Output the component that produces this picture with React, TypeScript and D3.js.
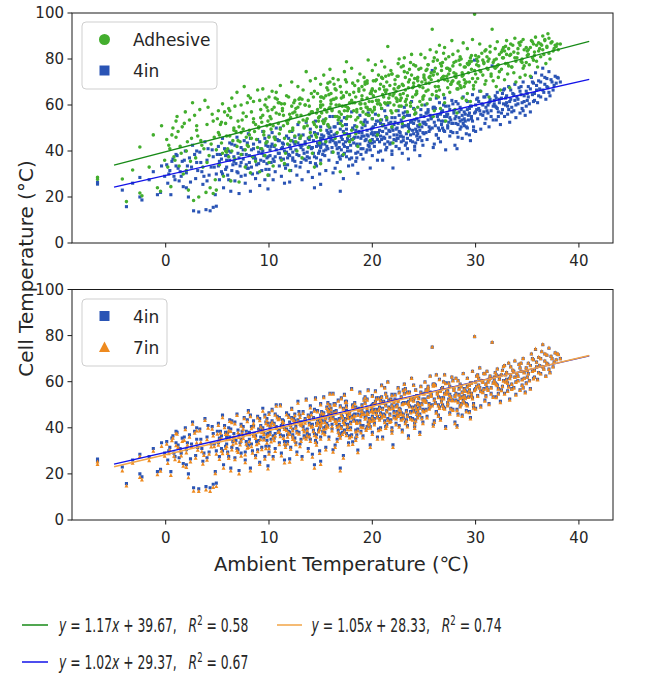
import React, { useLayoutEffect, useRef, useState } from 'react';
import * as d3 from 'd3';

// Ambient temperature of each sample (°C)
const ambient = [
  -6.6,-6.6,-4.2,-3.8,-3.2,-2.5,-2.5,-2.3,-1.6,-1.2,
  -0.8,-0.5,-0.4,-0.1,0.1,0.2,0.4,0.5,0.7,0.8,
  1.0,1.1,1.3,1.4,1.6,1.7,1.9,2.0,2.2,2.3,
  2.5,2.6,2.7,2.9,3.0,3.2,3.3,3.5,3.6,3.8,
  3.9,4.0,4.2,4.3,4.5,4.6,4.7,4.8,4.9,5.0,
  5.1,5.2,5.2,5.4,5.5,5.6,5.8,5.9,6.0,6.1,
  6.2,6.3,6.4,6.4,6.6,6.7,6.8,6.9,7.0,7.1,
  7.2,7.3,7.3,7.5,7.6,7.7,7.8,7.9,8.0,8.1,
  8.2,8.3,8.4,8.5,8.5,8.7,8.8,8.9,9.0,9.1,
  9.2,9.2,9.3,9.4,9.5,9.6,9.7,9.8,9.8,9.9,
  9.9,10.0,10.0,10.0,10.1,10.2,10.3,10.4,10.5,10.6,
  10.6,10.8,10.9,11.0,11.1,11.2,11.3,11.4,11.5,11.5,
  11.7,11.8,11.9,12.0,12.0,12.1,12.2,12.3,12.4,12.5,
  12.6,12.7,12.8,12.9,13.0,13.0,13.1,13.2,13.3,13.4,
  13.5,13.6,13.7,13.8,13.9,14.0,14.0,14.1,14.2,14.3,
  14.4,14.5,14.6,14.6,14.7,14.8,14.9,15.0,15.0,15.0,
  15.0,15.0,10.7,11.6,12.5,13.2,13.9,14.4,11.0,12.3,
  15.1,15.2,15.3,15.4,15.5,15.6,15.7,15.8,15.9,16.0,
  16.1,16.2,16.3,16.4,16.5,16.6,16.7,16.8,16.9,17.0,
  17.1,17.2,17.3,17.4,17.5,17.6,17.7,17.8,17.9,18.0,
  18.0,18.1,18.2,18.3,18.4,18.5,18.6,18.7,18.8,18.9,
  19.0,19.1,19.2,19.3,19.4,19.5,19.6,19.7,19.8,19.9,
  20.0,20.0,15.5,16.0,16.8,17.5,18.4,19.0,19.5,15.8,
  16.5,17.0,17.8,18.6,19.3,15.3,16.2,17.2,18.1,19.8,
  15.0,16.4,17.6,18.9,19.6,20.0,15.7,17.3,20.1,20.2,
  20.3,20.4,20.5,20.6,20.7,20.8,20.9,21.0,21.0,21.1,
  21.2,21.3,21.4,21.5,21.6,21.7,21.8,21.9,22.0,22.1,
  22.2,22.3,22.4,22.5,22.6,22.7,22.8,22.9,23.0,23.1,
  23.2,23.3,23.4,23.5,23.6,23.7,23.8,23.9,24.0,24.1,
  24.2,24.3,24.4,24.5,24.6,24.7,24.8,24.9,25.0,25.0,
  20.3,20.9,21.4,21.9,22.3,22.8,23.2,23.7,24.2,24.6,
  20.6,21.2,21.7,22.1,22.6,23.0,23.5,24.0,24.4,24.9,
  20.0,21.3,22.4,23.4,24.3,20.8,25.1,25.2,25.3,25.4,
  25.5,25.6,25.7,25.8,25.9,26.0,26.1,26.2,26.3,26.4,
  26.5,26.6,26.7,26.8,26.9,27.0,27.1,27.2,27.3,27.4,
  27.5,27.6,27.7,27.8,27.9,28.0,28.1,28.2,28.3,28.4,
  28.5,28.6,28.7,28.8,28.9,29.0,29.1,29.2,29.3,29.4,
  29.5,29.6,29.7,29.8,29.9,30.0,30.0,25.4,25.9,26.4,
  26.9,27.3,27.8,28.3,28.7,29.2,29.6,25.6,26.2,26.7,
  27.5,28.1,28.9,29.4,25.2,26.0,27.0,28.5,30.1,30.2,
  30.3,30.4,30.5,30.6,30.7,30.8,30.9,31.0,31.1,31.2,
  31.3,31.4,31.5,31.6,31.7,31.8,31.9,32.0,32.1,32.2,
  32.3,32.4,32.5,32.6,32.7,32.8,32.9,33.0,33.1,33.2,
  33.3,33.4,33.5,33.6,33.7,33.8,33.9,34.0,34.1,34.2,
  34.3,34.4,34.5,34.6,34.7,34.8,34.9,35.0,30.4,31.2,
  32.0,32.8,35.1,35.2,35.3,35.4,35.5,35.6,35.7,35.8,
  35.9,36.0,36.1,36.2,36.3,36.4,36.5,36.6,36.7,36.8,
  36.9,37.0,37.1,37.2,37.4,37.5,37.7,37.8,38.0,38.2,
  0.3,0.6,0.9,1.2,1.5,1.8,2.1,2.4,2.8,3.1,
  3.4,3.7,4.1,4.4,4.6,4.9,1.0,2.0,3.0,4.0,
  5.1,5.3,5.5,5.7,5.9,6.1,6.3,6.5,6.7,6.9,
  7.1,7.3,7.5,7.7,7.9,8.1,8.3,8.5,8.7,8.9,
  9.1,9.3,9.5,9.7,9.9,5.4,5.8,6.2,6.6,7.0,
  7.4,7.8,8.2,8.6,9.0,9.4,9.8,6.0,8.0,9.6,
  10.1,10.3,10.5,10.7,10.9,11.1,11.3,11.5,11.7,11.9,
  12.1,12.3,12.5,12.7,12.9,13.1,13.3,13.5,13.7,13.9,
  14.1,14.3,14.5,14.7,14.9,10.2,10.6,11.0,11.4,11.8,
  12.2,12.6,13.0,13.4,13.8,14.2,14.6,15.0,10.4,11.2,
  12.0,12.8,13.6,14.4,14.8,15.1,15.3,15.5,15.7,15.9,
  16.1,16.3,16.5,16.7,16.9,17.1,17.3,17.5,17.7,17.9,
  18.1,18.3,18.5,18.7,18.9,19.1,19.3,19.5,19.7,19.9,
  15.2,15.6,16.0,16.4,16.8,17.2,17.6,18.0,18.4,18.8,
  19.2,19.6,20.0,15.4,16.2,17.0,17.8,18.6,19.4,15.8,
  16.6,17.4,18.2,19.0,19.8,16.9,18.5,19.5,15.9,17.5,
  20.1,20.3,20.5,20.7,20.9,21.1,21.3,21.5,21.7,21.9,
  22.1,22.3,22.5,22.7,22.9,23.1,23.3,23.5,23.7,23.9,
  24.1,24.3,24.5,24.7,24.9,20.2,20.6,21.0,21.4,21.8,
  22.2,22.6,23.0,23.4,23.8,24.2,24.6,25.0,20.4,21.2,
  22.0,22.8,23.6,24.4,20.8,21.6,22.4,23.2,24.0,24.8,
  21.9,23.0,24.1,20.0,22.5,25.1,25.3,25.5,25.7,25.9,
  26.1,26.3,26.5,26.7,26.9,27.1,27.3,27.5,27.7,27.9,
  28.1,28.3,28.5,28.7,28.9,29.1,29.3,29.5,29.7,29.9,
  25.2,25.6,26.0,26.4,26.8,27.2,27.6,28.0,28.4,28.8,
  29.2,29.6,30.0,25.8,26.6,27.4,28.2,29.0,29.8,25.4,
  26.2,27.0,27.8,28.6,29.4,30.1,30.3,30.5,30.7,30.9,
  31.1,31.3,31.5,31.7,31.9,32.1,32.3,32.5,32.7,32.9,
  33.1,33.3,33.5,33.7,33.9,34.1,34.3,34.5,34.7,34.9,
  30.2,30.8,31.4,32.0,32.6,33.2,33.8,34.4,35.0,31.0,
  32.2,33.4,34.6,31.8,33.0,35.1,35.3,35.5,35.7,35.9,
  36.1,36.3,36.5,36.7,36.9,37.1,37.3,37.6,37.9,35.6,
];

// Cell temperature, adhesive mount (°C)
const adhesive = [
  27.7,28.6,27.8,18.0,31.7,21.7,41.7,20.5,33.0,47.0,
  24.0,22.5,51.0,36.0,45.0,33.0,41.0,24.5,50.0,37.5,
  46.0,55.0,33.5,42.0,50.5,30.0,57.0,40.0,23.0,53.5,
  45.5,61.0,18.5,37.0,49.0,20.0,58.0,42.5,33.0,62.0,
  22.0,51.5,38.0,24.0,56.0,21.5,46.0,27.5,23.0,54.0,
  57.5,34.0,47.0,43.5,60.5,29.0,52.0,39.5,41.0,58.5,
  46.5,27.0,63.0,40.0,50.0,36.5,48.5,65.5,53.0,26.5,
  44.0,60.0,38.5,49.5,68.0,33.0,55.0,42.5,64.0,47.0,
  30.5,57.0,37.5,52.5,61.5,35.5,45.0,66.5,50.0,31.0,
  54.5,58.0,41.0,67.0,48.5,38.0,62.5,44.0,59.0,29.5,
  53.0,46.0,63.5,35.0,55.0,49.5,66.0,33.5,59.0,45.0,
  42.5,62.5,52.0,47.5,68.5,36.0,57.5,51.0,60.5,34.5,
  64.0,43.0,53.5,56.0,31.5,44.5,70.0,49.0,61.0,46.5,
  58.5,40.0,68.0,52.5,63.0,45.5,55.5,37.0,66.5,50.5,
  60.0,74.5,54.0,41.5,59.5,48.0,70.5,57.0,39.0,63.5,
  51.5,71.5,56.5,46.0,65.0,53.0,43.5,61.5,49.0,69.0,
  59.0,34.5,65.5,39.0,62.0,62.5,46.0,33.0,61.0,56.5,
  63.5,53.0,73.0,58.0,44.0,67.5,51.5,50.5,75.5,62.0,
  57.5,39.5,69.0,55.0,66.5,48.0,71.0,60.0,31.0,63.0,
  51.0,38.5,74.5,59.5,78.8,55.0,46.5,64.5,61.0,76.0,
  49.0,45.0,65.5,68.5,53.5,57.0,42.0,67.0,73.5,52.5,
  64.0,51.5,72.0,60.5,56.0,69.5,79.6,55.5,44.5,66.0,
  61.5,54.0,64.0,60.5,54.5,70.0,47.5,62.5,59.0,58.5,
  63.0,65.5,44.0,70.5,69.0,52.0,71.5,63.5,61.0,65.0,
  60.0,45.5,57.5,58.5,58.0,75.0,69.5,47.5,70.5,58.0,
  77.5,62.0,47.0,73.0,60.5,53.5,79.0,64.5,51.0,68.0,
  66.5,72.5,54.5,85.4,63.0,61.0,75.0,50.5,43.5,67.0,
  71.0,57.5,72.5,78.0,59.5,62.0,76.5,52.0,68.5,80.5,
  66.5,60.0,74.0,48.5,71.0,61.0,82.0,63.5,69.5,56.0,
  77.0,65.0,59.0,75.5,51.5,82.0,70.0,62.5,73.0,64.0,
  66.0,58.5,70.0,73.5,63.0,59.5,72.0,78.5,56.5,68.0,
  55.5,76.5,64.5,65.0,80.0,54.5,67.5,77.5,72.0,67.5,
  57.0,60.5,61.5,57.0,71.5,69.0,80.5,69.5,60.5,77.5,
  72.0,84.0,71.0,92.9,55.0,74.5,76.0,66.0,79.5,68.0,
  86.0,58.5,75.0,78.5,64.5,85.0,53.0,72.5,76.0,81.0,
  65.5,69.0,88.0,70.5,74.0,58.0,73.5,56.5,83.5,70.0,
  68.5,80.0,63.0,87.0,71.0,76.5,62.0,84.5,74.0,78.0,
  61.5,79.0,88.5,67.0,99.5,73.5,70.0,66.5,73.0,63.5,
  82.5,70.5,77.0,67.0,72.5,65.0,81.5,62.5,83.0,71.5,
  75.5,79.0,68.0,70.0,75.0,57.5,61.0,77.5,80.0,71.5,
  77.0,86.5,66.0,82.5,73.0,78.5,69.0,84.0,81.0,75.5,
  63.5,85.5,72.5,92.9,70.5,79.5,76.0,68.0,87.5,77.5,
  74.5,66.5,83.0,80.5,85.0,71.0,78.0,88.0,73.5,84.5,
  67.5,82.0,76.5,86.0,74.0,89.0,70.0,80.5,84.5,87.0,
  72.0,79.0,78.5,88.5,77.0,73.0,85.0,81.5,75.0,79.0,
  76.5,83.5,84.0,77.5,72.5,88.0,80.5,86.5,83.0,89.5,
  79.0,76.5,87.0,84.5,81.0,86.0,90.0,82.0,88.5,78.0,
  85.5,91.0,89.0,80.0,87.5,83.5,86.0,85.4,84.0,86.5,
  42.5,47.0,36.0,48.5,39.0,52.0,44.0,35.5,55.5,46.5,
  44.5,41.0,59.0,43.0,53.0,40.5,53.0,31.5,51.0,35.0,
  48.0,51.5,39.0,57.0,46.5,37.5,54.5,44.5,59.5,42.0,
  50.5,48.0,56.5,40.5,61.0,49.0,45.5,54.0,51.5,41.5,
  62.0,52.5,47.0,43.5,57.5,52.5,40.0,57.5,49.0,44.5,
  53.5,46.0,63.0,48.5,50.5,55.5,51.0,55.5,42.0,60.0,
  51.5,58.0,46.0,56.5,61.0,49.5,58.5,45.5,53.0,63.5,
  54.5,50.0,57.0,55.5,62.5,46.5,53.5,60.0,51.0,56.0,
  65.0,52.5,47.0,58.0,55.0,54.0,63.0,56.0,55.5,52.0,
  59.5,44.0,60.5,50.0,62.0,57.0,50.5,63.5,51.0,60.5,
  48.5,59.0,53.0,66.0,54.5,56.5,63.0,54.0,66.5,59.0,
  58.0,62.5,60.0,53.5,68.0,59.5,57.5,65.5,58.5,55.0,
  69.5,61.0,58.0,66.0,60.5,57.0,70.0,63.0,61.5,65.0,
  60.0,57.0,65.0,67.0,57.0,64.0,59.0,62.0,63.5,60.5,
  66.5,55.5,67.0,53.0,62.5,56.0,61.0,54.5,59.0,64.5,
  55.0,71.0,57.5,68.0,58.0,52.0,50.5,70.5,70.0,54.0,
  64.0,70.5,60.5,67.0,72.0,63.5,65.5,61.0,68.5,73.5,
  60.0,66.0,72.5,64.5,69.0,74.5,62.5,70.0,59.5,67.5,
  71.5,66.0,68.5,76.0,63.5,59.0,62.0,71.5,66.5,57.5,
  69.0,68.0,65.0,64.0,73.0,64.5,61.5,72.0,71.0,61.0,
  64.0,63.0,75.5,70.5,60.0,73.0,62.5,61.5,68.0,60.0,
  56.5,77.0,58.0,66.5,67.5,71.0,75.5,69.5,74.0,79.0,
  68.0,73.5,66.5,77.0,72.5,80.0,67.5,75.0,70.0,78.5,
  72.0,69.5,81.0,74.0,76.5,70.0,77.5,80.5,71.5,75.0,
  66.0,72.5,80.5,70.5,72.0,76.0,69.0,72.5,79.5,73.0,
  78.0,75.5,81.5,64.5,78.0,73.5,67.0,69.5,68.5,77.5,
  64.0,71.0,82.0,67.5,79.0,77.5,81.0,74.5,79.5,83.5,
  76.0,80.0,73.5,78.5,84.5,77.0,82.0,75.5,80.5,85.5,
  78.0,81.5,76.5,83.0,79.0,82.5,86.0,80.0,84.0,78.5,
  79.0,78.0,83.0,80.0,84.0,77.0,80.5,87.5,83.5,70.5,
  72.0,86.5,76.0,76.5,82.0,82.0,85.0,87.5,81.5,86.0,
  83.5,86.5,84.0,88.0,85.0,82.5,87.0,84.5,86.5,79.5,
];

// Cell temperature, 4in standoff (°C)
const fourInch = [
  25.6,26.4,23.0,15.8,26.0,20.0,28.5,18.7,27.5,31.0,
  21.0,22.0,33.5,29.0,34.0,26.0,31.5,21.0,36.5,29.0,
  33.5,38.0,27.0,31.0,35.5,24.5,40.0,30.5,20.0,37.0,
  33.0,42.5,14.0,28.0,35.0,13.5,39.5,31.0,25.5,44.0,
  14.5,36.0,29.5,14.0,40.5,15.5,33.0,21.0,16.0,38.5,
  42.0,27.5,35.5,31.0,45.5,24.0,38.0,33.0,29.5,40.0,
  36.0,22.5,43.0,31.5,37.5,27.0,34.5,46.0,39.0,21.5,
  33.5,41.5,29.0,36.5,44.5,26.0,38.5,32.5,47.5,35.0,
  22.5,40.5,30.0,37.0,43.0,28.0,34.0,45.0,39.5,25.0,
  36.0,41.0,31.5,48.5,38.0,27.5,42.5,34.5,44.0,23.5,
  37.5,32.0,46.5,29.5,40.5,35.0,48.0,27.5,42.0,37.5,
  31.0,45.0,39.0,33.5,50.0,29.0,43.5,36.5,40.0,26.0,
  46.5,34.0,38.5,42.5,26.5,31.5,48.5,37.0,44.0,35.5,
  40.5,29.5,51.5,38.0,45.5,33.0,41.5,27.5,47.0,36.5,
  43.0,52.5,39.5,31.0,45.0,35.0,49.5,41.0,28.5,44.5,
  37.5,53.0,42.0,33.5,47.5,39.0,30.0,45.5,36.0,50.5,
  41.5,25.5,50.0,32.5,46.0,42.5,37.0,24.0,44.5,39.5,
  47.0,38.5,53.5,43.0,31.5,49.0,41.0,36.0,55.0,45.0,
  39.5,30.5,50.5,43.5,47.5,35.0,52.0,41.5,22.5,46.0,
  38.0,28.0,54.5,44.0,49.5,40.0,33.5,47.0,42.5,57.0,
  37.0,33.9,45.5,51.0,39.0,43.0,30.3,48.0,55.5,41.0,
  46.5,36.5,52.5,44.5,39.5,49.0,56.5,42.0,32.6,47.5,
  45.0,38.0,44.5,48.5,37.5,51.5,35.5,50.0,40.5,46.0,
  42.5,53.0,36.5,46.0,53.5,40.0,55.0,43.0,49.5,43.5,
  42.0,32.5,45.5,38.5,46.5,54.0,51.0,39.0,50.5,42.0,
  56.0,46.5,36.0,53.0,44.0,40.0,58.5,48.5,36.0,51.5,
  45.5,55.0,41.5,60.0,49.0,43.0,52.5,38.5,32.6,47.0,
  54.5,44.5,50.0,57.5,41.0,48.0,53.5,39.0,46.0,59.0,
  51.0,43.5,55.5,36.5,49.5,47.0,61.5,44.0,52.0,40.5,
  56.5,48.5,45.0,53.0,38.0,58.0,50.5,42.5,55.0,47.5,
  48.0,45.0,53.5,50.0,42.0,46.5,57.0,52.5,43.5,49.0,
  39.5,57.5,46.0,51.5,55.5,44.5,50.5,58.5,47.5,52.5,
  43.5,40.5,45.5,41.0,54.0,52.0,60.0,51.5,45.0,57.0,
  48.5,62.5,54.0,75.0,41.5,52.5,58.5,47.0,55.5,50.0,
  61.0,44.0,53.0,57.5,49.0,63.0,40.5,55.0,51.0,59.5,
  46.5,53.5,62.0,48.0,56.5,42.5,52.0,41.0,60.5,54.5,
  49.5,58.0,45.5,63.5,51.0,56.0,47.5,61.5,53.5,58.5,
  44.5,55.0,64.5,50.5,79.5,57.0,48.5,53.5,59.0,45.5,
  60.0,56.0,52.0,46.0,55.5,50.0,59.5,49.5,63.0,51.5,
  58.0,61.5,54.0,47.0,56.5,43.0,48.5,53.0,62.5,54.0,
  58.5,66.0,49.5,60.5,55.5,63.5,52.0,59.0,64.5,56.5,
  50.5,61.5,57.5,77.0,53.5,62.0,59.5,53.5,65.5,57.0,
  61.0,51.5,63.0,58.0,66.5,55.0,60.0,64.0,56.0,68.0,
  52.5,62.5,59.0,65.0,57.5,69.0,54.5,63.5,60.5,67.5,
  56.5,64.5,58.5,70.0,61.5,55.5,66.0,62.0,57.5,60.0,
  63.0,67.0,68.0,60.5,57.0,72.0,64.5,69.5,62.0,74.0,
  66.5,61.0,70.5,67.0,63.5,73.0,76.0,65.5,69.0,62.5,
  71.5,67.5,74.5,64.0,70.0,66.5,72.5,69.5,71.7,70.0,
  30.0,35.5,27.5,32.5,29.0,36.0,33.5,26.5,38.5,31.5,
  35.0,29.0,41.0,33.0,37.5,30.0,38.5,24.0,40.0,27.0,
  33.5,38.5,30.0,41.0,36.0,27.5,39.5,34.0,42.5,31.0,
  37.0,35.0,40.5,29.5,43.5,38.0,33.0,41.0,36.5,30.5,
  44.0,39.0,35.5,32.0,42.0,36.5,32.0,43.5,35.5,30.5,
  38.5,34.0,45.5,37.5,34.5,40.0,37.0,38.0,32.5,45.5,
  38.0,43.0,35.5,40.5,44.5,37.0,41.5,34.0,39.5,45.5,
  41.0,36.0,43.0,38.5,47.0,35.0,40.5,44.0,37.5,42.0,
  46.5,39.0,34.5,43.5,40.0,42.0,46.0,39.0,43.0,37.0,
  44.5,33.5,42.5,39.0,45.5,41.5,37.0,44.0,36.5,41.0,
  38.0,43.5,36.0,48.0,42.5,43.0,46.5,40.5,48.0,44.0,
  41.5,47.0,43.5,39.0,49.5,45.0,42.0,47.5,44.5,40.0,
  50.0,46.0,42.5,48.5,45.5,41.0,51.0,47.0,44.0,49.5,
  45.5,42.0,46.5,50.5,44.0,48.5,41.5,45.0,49.0,43.0,
  46.5,42.5,48.0,38.0,44.5,40.5,46.5,39.5,45.0,47.5,
  41.0,51.5,43.5,48.0,40.5,36.5,37.0,52.5,50.0,37.5,
  47.0,51.5,45.0,49.0,53.5,46.0,50.0,44.0,48.5,54.5,
  45.0,49.5,52.0,46.5,50.5,55.0,47.5,51.5,44.5,49.0,
  53.5,46.5,50.5,55.5,48.0,44.0,48.0,51.0,47.5,43.5,
  52.5,48.5,51.0,45.5,53.0,49.5,46.0,52.0,53.0,43.0,
  49.0,44.0,55.5,51.0,46.5,52.0,47.0,42.5,47.5,44.5,
  40.0,56.5,42.0,50.0,45.5,52.5,56.5,50.5,54.5,58.5,
  51.0,55.0,49.0,57.0,53.0,59.5,50.0,54.5,52.0,57.5,
  55.0,51.5,59.0,53.5,57.0,50.5,55.5,59.5,53.0,56.5,
  48.0,55.5,59.0,53.5,50.0,56.0,48.5,54.0,57.0,52.0,
  58.0,54.0,60.0,50.0,56.0,52.5,48.0,53.0,49.0,58.0,
  47.0,55.0,60.5,50.5,56.5,58.0,61.5,56.0,60.0,63.5,
  57.5,61.0,55.0,59.5,64.0,58.5,62.5,56.5,60.5,63.0,
  59.5,61.5,57.0,64.5,60.0,62.5,66.0,61.0,64.0,59.5,
  63.0,57.0,62.5,59.0,65.0,58.0,62.0,68.0,65.0,54.0,
  55.0,66.5,57.5,60.5,61.0,63.5,67.0,70.0,65.0,68.5,
  64.0,70.0,66.5,72.0,68.0,65.5,71.0,68.5,72.0,61.5,
];

// 7in standoff minus 4in standoff for the same sample (°C)
const sevenMinusFour = [
  -1.3,-1.0,-1.5,-0.9,-1.2,-1.4,-0.8,-1.1,-1.6,-1.0,
  -1.2,-0.7,-1.4,-1.1,-0.9,-1.3,-1.0,-1.5,-0.8,-1.2,
  -1.1,-0.6,-1.4,-0.9,-1.3,-1.0,-0.7,-1.2,-1.5,-0.9,
  -1.1,-0.8,-1.3,-1.0,-1.4,-0.9,-0.7,-1.2,-1.1,-0.6,
  -1.3,-1.0,-0.8,-1.4,-0.9,-1.2,-1.0,-0.7,-1.3,-1.1,
  -0.8,-1.1,-0.6,-1.0,-0.9,-1.3,-0.7,-1.0,-0.5,-1.2,
  -0.8,-1.1,-0.6,-0.9,-1.2,-0.7,-1.0,-0.5,-0.9,-1.3,
  -0.8,-0.6,-1.1,-0.9,-0.4,-1.0,-0.8,-1.2,-0.6,-0.9,
  -1.1,-0.7,-0.9,-0.5,-1.0,-0.8,-1.2,-0.6,-0.9,-0.7,
  -1.0,-0.5,-0.8,-1.1,-0.7,-0.9,-0.6,-1.0,-0.8,-1.2,
  -0.7,-0.9,-0.5,-0.8,-0.7,-1.0,-0.4,-0.8,-0.6,-0.9,
  -1.1,-0.5,-0.8,-0.7,-0.3,-1.0,-0.6,-0.9,-0.5,-1.1,
  -0.7,-0.8,-0.6,-0.9,-1.2,-0.7,-0.4,-0.8,-0.6,-1.0,
  -0.5,-0.9,-0.7,-0.6,-0.8,-1.0,-0.4,-0.9,-0.6,-0.7,
  -0.8,-0.3,-0.6,-1.0,-0.5,-0.8,-0.7,-0.6,-1.1,-0.5,
  -0.7,-0.4,-0.8,-0.9,-0.5,-0.6,-1.0,-0.7,-0.8,-0.4,
  -0.6,-1.2,-0.5,-0.9,-0.6,-0.7,-0.8,-1.3,-0.5,-0.7,
  -0.5,-0.7,-0.3,-0.6,-0.9,-0.4,-0.6,-0.8,-0.2,-0.5,
  -0.7,-0.9,-0.4,-0.6,-0.5,-0.8,-0.3,-0.6,-1.1,-0.5,
  -0.7,-1.0,-0.3,-0.5,-0.4,-0.6,-0.8,-0.5,-0.6,-0.2,
  -0.7,-0.9,-0.5,-0.4,-0.6,-0.5,-0.9,-0.4,-0.3,-0.6,
  -0.5,-0.7,-0.3,-0.6,-0.5,-0.4,-0.2,-0.6,-0.9,-0.4,
  -0.5,-0.7,-0.4,-0.5,-0.6,-0.3,-0.8,-0.4,-0.6,-0.5,
  -0.4,-0.3,-0.7,-0.5,-0.3,-0.6,-0.2,-0.5,-0.4,-0.6,
  -0.5,-0.8,-0.4,-0.6,-0.5,-0.2,-0.4,-0.7,-0.4,-0.6,
  -0.2,-0.5,-0.8,-0.3,-0.5,-0.6,-0.1,-0.4,-0.7,-0.3,
  -0.5,-0.2,-0.6,0.0,-0.4,-0.5,-0.3,-0.7,-0.9,-0.4,
  -0.2,-0.5,-0.3,-0.1,-0.6,-0.4,-0.2,-0.6,-0.4,0.0,
  -0.3,-0.5,-0.2,-0.8,-0.3,-0.4,0.1,-0.5,-0.3,-0.6,
  -0.1,-0.4,-0.5,-0.2,-0.7,0.0,-0.3,-0.5,-0.2,-0.4,
  -0.4,-0.5,-0.2,-0.3,-0.6,-0.4,-0.1,-0.3,-0.5,-0.4,
  -0.6,-0.1,-0.4,-0.3,-0.2,-0.5,-0.3,0.0,-0.4,-0.2,
  -0.5,-0.6,-0.4,-0.5,-0.2,-0.3,0.0,-0.3,-0.5,-0.1,
  -0.3,0.1,-0.2,0.2,-0.6,-0.3,-0.1,-0.4,-0.2,-0.3,
  0.0,-0.5,-0.2,-0.1,-0.4,0.1,-0.6,-0.2,-0.3,0.0,
  -0.4,-0.2,0.2,-0.3,-0.1,-0.5,-0.2,-0.6,0.0,-0.2,
  -0.3,-0.1,-0.4,0.2,-0.2,-0.1,-0.4,0.1,-0.2,0.0,
  -0.5,-0.1,0.2,-0.3,0.3,-0.1,-0.3,-0.2,0.0,-0.4,
  0.1,-0.2,-0.1,-0.4,-0.1,-0.3,0.0,-0.3,0.1,-0.2,
  0.0,0.1,-0.2,-0.3,-0.1,-0.5,-0.3,-0.1,0.1,-0.2,
  0.0,0.2,-0.4,0.1,-0.1,0.2,-0.3,0.0,0.2,-0.1,
  -0.3,0.1,-0.1,0.3,-0.2,0.1,0.0,-0.3,0.2,-0.1,
  0.1,-0.4,0.2,0.0,0.3,-0.2,0.0,0.2,-0.1,0.3,
  -0.3,0.1,0.0,0.2,-0.1,0.3,-0.2,0.1,0.0,0.2,
  -0.1,0.2,0.0,0.3,0.1,-0.2,0.2,0.1,-0.1,0.0,
  0.1,0.2,0.2,0.0,-0.1,0.3,0.1,0.2,0.0,0.4,
  0.1,-0.1,0.3,0.2,0.0,0.3,0.4,0.1,0.2,0.0,
  0.3,0.1,0.4,0.0,0.2,0.1,0.3,0.2,0.3,0.2,
  -1.1,-0.9,-1.2,-0.8,-1.0,-1.3,-0.9,-1.1,-0.7,-1.0,
  -1.2,-0.8,-1.0,-1.1,-0.9,-1.3,-0.8,-1.0,-1.2,-0.9,
  -0.9,-0.7,-1.1,-0.8,-1.0,-0.6,-0.9,-1.2,-0.7,-0.8,
  -1.0,-0.6,-0.9,-1.1,-0.7,-0.8,-1.0,-0.5,-0.9,-0.7,
  -0.8,-1.0,-0.6,-0.9,-0.7,-1.1,-0.8,-0.6,-0.9,-1.0,
  -0.7,-0.9,-0.5,-0.8,-1.0,-0.6,-0.8,-0.7,-0.9,-0.6,
  -0.7,-0.5,-0.9,-0.6,-0.8,-0.7,-0.4,-0.9,-0.6,-0.8,
  -0.7,-0.9,-0.5,-0.6,-0.8,-0.7,-1.0,-0.5,-0.7,-0.6,
  -0.8,-0.5,-0.7,-0.9,-0.6,-0.7,-0.4,-0.8,-0.6,-0.9,
  -0.5,-0.7,-0.8,-0.6,-0.4,-0.7,-0.9,-0.5,-0.8,-0.6,
  -0.7,-0.5,-0.8,-0.6,-0.7,-0.6,-0.4,-0.7,-0.5,-0.6,
  -0.8,-0.4,-0.6,-0.7,-0.3,-0.6,-0.5,-0.8,-0.4,-0.6,
  -0.5,-0.7,-0.4,-0.6,-0.5,-0.8,-0.3,-0.6,-0.5,-0.4,
  -0.6,-0.7,-0.4,-0.5,-0.6,-0.3,-0.7,-0.5,-0.4,-0.6,
  -0.5,-0.7,-0.4,-0.8,-0.5,-0.6,-0.4,-0.7,-0.5,-0.3,
  -0.6,-0.4,-0.5,-0.7,-0.5,-0.8,-0.6,-0.3,-0.4,-0.7,
  -0.4,-0.3,-0.5,-0.4,-0.2,-0.5,-0.4,-0.6,-0.3,-0.4,
  -0.5,-0.3,-0.4,-0.6,-0.3,-0.2,-0.5,-0.4,-0.6,-0.3,
  -0.4,-0.5,-0.3,-0.2,-0.5,-0.6,-0.4,-0.3,-0.4,-0.6,
  -0.3,-0.4,-0.5,-0.4,-0.2,-0.4,-0.5,-0.3,-0.4,-0.6,
  -0.4,-0.5,-0.2,-0.3,-0.5,-0.3,-0.4,-0.6,-0.4,-0.5,
  -0.6,-0.2,-0.5,-0.4,-0.4,-0.3,-0.2,-0.4,-0.1,-0.3,
  -0.3,-0.2,-0.4,-0.1,-0.3,-0.2,-0.4,-0.3,-0.1,-0.2,
  -0.3,-0.4,-0.1,-0.2,-0.3,-0.4,-0.2,0.0,-0.3,-0.2,
  -0.4,-0.2,-0.1,-0.3,-0.4,-0.2,-0.3,-0.2,-0.1,-0.3,
  -0.2,-0.3,0.0,-0.4,-0.1,-0.3,-0.4,-0.2,-0.3,-0.1,
  -0.4,-0.2,0.0,-0.3,-0.2,-0.1,0.0,-0.2,-0.1,0.1,
  -0.2,-0.1,-0.3,0.0,0.1,-0.1,0.0,-0.2,-0.1,0.1,
  -0.1,0.0,-0.2,0.1,-0.1,0.0,0.2,-0.1,0.0,-0.2,
  0.0,-0.2,0.1,-0.1,0.1,-0.2,0.0,0.2,0.1,-0.3,
  -0.2,0.1,-0.1,0.0,-0.1,0.0,0.1,0.2,0.0,0.1,
  0.0,0.2,0.1,0.3,0.1,0.0,0.2,0.1,0.3,-0.1,
];

// Linear fits: adhesive, 4in, 7in
const fitSlopes = [1.17, 1.02, 1.05];
const fitIntercepts = [39.67, 29.37, 28.33];
const fitR2 = [0.58, 0.67, 0.74];
const fitRange = [-5, 41];

const xTicks = [0, 10, 20, 30, 40];
const yTicks = [0, 20, 40, 60, 80, 100];

const FONT = 'DejaVu Sans, Verdana, sans-serif';
const TXT = '#262626';
const GREEN_PT = '#43ae2e';
const BLUE_PT = '#2a54b5';
const ORANGE_PT = '#ee8a1f';
const GREEN_LINE = '#178a17';
const BLUE_LINE = '#1212e8';
const ORANGE_LINE = '#f2a446';

function FitText({ x, y, width, children, ...rest }: any) {
  const ref = useRef<SVGTextElement>(null);
  const [s, setS] = useState(1);
  useLayoutEffect(() => {
    if (ref.current) {
      const w = ref.current.getBBox().width;
      if (w > 0) setS(width / w);
    }
  }, [width]);
  return (
    <g transform={`translate(${x},${y}) scale(${s},1)`}>
      <text ref={ref} x={0} y={0} style={{ whiteSpace: 'pre' }} {...rest}>
        {children}
      </text>
    </g>
  );
}

function Equation({ x, y, width, i }: any) {
  return (
    <FitText x={x} y={y} width={width} fontSize={19.5} fontFamily={FONT} fill={TXT}>
      <tspan fontStyle="italic">y</tspan>
      <tspan>{` = ${fitSlopes[i].toFixed(2)}`}</tspan>
      <tspan fontStyle="italic">x</tspan>
      <tspan>{` + ${fitIntercepts[i].toFixed(2)},   `}</tspan>
      <tspan fontStyle="italic">R</tspan>
      <tspan fontSize={13.5} dy={-7.5}>2</tspan>
      <tspan dy={7.5}>{` = ${fitR2[i].toFixed(2)}`}</tspan>
    </FitText>
  );
}

export default function App() {
  const W = 664, H = 675;
  const L = 72, R = 613;
  const x = d3.scaleLinear().domain([-9.07, 43.3]).range([L, R]);
  const yTop = d3.scaleLinear().domain([0, 100]).range([243, 13]);
  const yBot = d3.scaleLinear().domain([0, 100]).range([520, 289.5]);
  const n = Math.min(ambient.length, adhesive.length, fourInch.length, sevenMinusFour.length);
  const idx = d3.range(n);
  const sevenInch = idx.map((i) => fourInch[i] + sevenMinusFour[i]);

  const circ = d3.symbol().type(d3.symbolCircle).size(10)()!;
  const sq = d3.symbol().type(d3.symbolSquare).size(9.6)()!;
  const h = 1.95;
  const tri = `M0,${-h}L${h},${h}L${-h},${h}Z`;
  const circL = d3.symbol().type(d3.symbolCircle).size(95)()!;
  const sqL = d3.symbol().type(d3.symbolSquare).size(100)()!;
  const triL = 'M0,-5.5L5.5,5L-5.5,5Z';

  const fitLine = (i: number, y: any) =>
    d3.line<number>().x((v) => x(v)).y((v) => y(fitSlopes[i] * v + fitIntercepts[i]))(fitRange)!;

  const axes = (y: any, key: string) => {
    const [b, t] = y.range();
    return (
      <g key={key}>
        <rect x={L} y={t} width={R - L} height={b - t} fill="none" stroke="#1a1a1a" strokeWidth={1} />
        {yTicks.map((v) => (
          <g key={'y' + v}>
            <line x1={L - 4.5} x2={L} y1={y(v)} y2={y(v)} stroke="#1a1a1a" />
            <text x={L - 8} y={y(v)} dy="0.36em" textAnchor="end" fontSize={15} fontFamily={FONT} fill={TXT}>{v}</text>
          </g>
        ))}
        {xTicks.map((v) => (
          <g key={'x' + v}>
            <line x1={x(v)} x2={x(v)} y1={b} y2={b + 4.5} stroke="#1a1a1a" />
            <text x={x(v)} y={b + 23} textAnchor="middle" fontSize={15} fontFamily={FONT} fill={TXT}>{v}</text>
          </g>
        ))}
      </g>
    );
  };

  const legendBox = (top: number, width: number) => (
    <rect x={82} y={top} width={width} height={67} rx={4} fill="#fff" fillOpacity={0.85} stroke="#cfcfcf" strokeWidth={1} />
  );

  return (
    <svg width={W} height={H} style={{ position: 'absolute', left: 0, top: 0, background: '#fff' }}>
      <defs>
        <clipPath id="clipTop"><rect x={L} y={13} width={R - L} height={230} /></clipPath>
        <clipPath id="clipBot"><rect x={L} y={289.5} width={R - L} height={230.5} /></clipPath>
      </defs>
      <rect x={0} y={0} width={W} height={H} fill="#fff" />

      {/* Top panel: adhesive vs 4in */}
      <g clipPath="url(#clipTop)">
        {idx.map((i) => (
          <path key={'b' + i} d={sq} transform={`translate(${x(ambient[i])},${yTop(fourInch[i])})`} fill={BLUE_PT} />
        ))}
        {idx.map((i) => (
          <path key={'g' + i} d={circ} transform={`translate(${x(ambient[i])},${yTop(adhesive[i])})`} fill={GREEN_PT} />
        ))}
        <path d={fitLine(0, yTop)} stroke={GREEN_LINE} strokeWidth={1.3} fill="none" />
        <path d={fitLine(1, yTop)} stroke={BLUE_LINE} strokeWidth={1.3} fill="none" />
      </g>
      {axes(yTop, 'top')}

      {/* Bottom panel: 4in vs 7in */}
      <g clipPath="url(#clipBot)">
        {idx.map((i) => (
          <path key={'b2' + i} d={sq} transform={`translate(${x(ambient[i])},${yBot(fourInch[i])})`} fill={BLUE_PT} />
        ))}
        {idx.map((i) => (
          <path key={'o' + i} d={tri} transform={`translate(${x(ambient[i])},${yBot(sevenInch[i])})`} fill={ORANGE_PT} />
        ))}
        <path d={fitLine(1, yBot)} stroke={BLUE_LINE} strokeWidth={1.3} fill="none" />
        <path d={fitLine(2, yBot)} stroke={ORANGE_LINE} strokeWidth={1.5} fill="none" />
      </g>
      {axes(yBot, 'bot')}

      {/* Panel legends */}
      {legendBox(22, 135)}
      <path d={circL} transform="translate(104.5,39.5)" fill={GREEN_PT} />
      <text x={133} y={45.5} fontSize={17} fontFamily={FONT} fill={TXT}>Adhesive</text>
      <path d={sqL} transform="translate(104.5,70.5)" fill={BLUE_PT} />
      <text x={133} y={76.5} fontSize={17} fontFamily={FONT} fill={TXT}>4in</text>

      {legendBox(299, 85)}
      <path d={sqL} transform="translate(104.5,316)" fill={BLUE_PT} />
      <text x={133} y={322.5} fontSize={17} fontFamily={FONT} fill={TXT}>4in</text>
      <path d={triL} transform="translate(104.5,347)" fill={ORANGE_PT} />
      <text x={133} y={353.5} fontSize={17} fontFamily={FONT} fill={TXT}>7in</text>

      {/* Axis labels */}
      <text transform="translate(33,268.5) rotate(-90)" textAnchor="middle" fontSize={20} fontFamily={FONT} fill={TXT}>
        Cell Temperature (°C)
      </text>
      <text x={341.5} y={570.5} textAnchor="middle" fontSize={19.5} fontFamily={FONT} fill={TXT}>
        Ambient Temperature (℃)
      </text>

      {/* Fit legend */}
      <line x1={22} x2={48} y1={625} y2={625} stroke={GREEN_LINE} strokeWidth={1.5} />
      <Equation x={59} y={632} width={190} i={0} />
      <line x1={277} x2={302} y1={625} y2={625} stroke={ORANGE_LINE} strokeWidth={1.5} />
      <Equation x={311.5} y={632} width={191} i={2} />
      <line x1={22} x2={48} y1={662} y2={662} stroke={BLUE_LINE} strokeWidth={1.5} />
      <Equation x={59} y={669} width={190} i={1} />
    </svg>
  );
}
